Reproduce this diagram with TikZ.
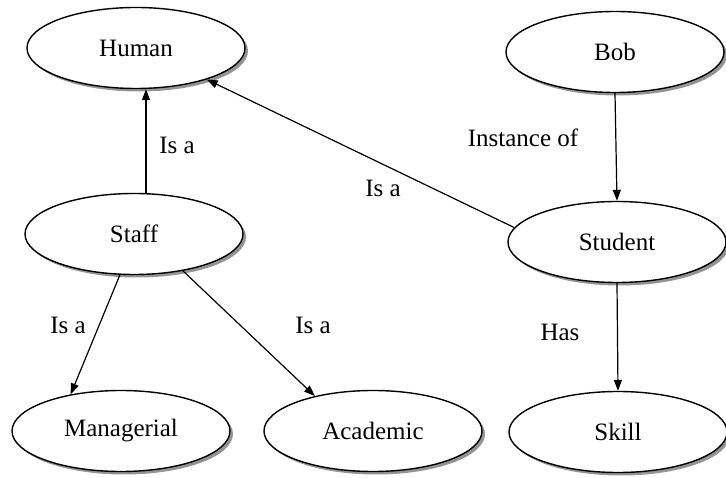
\documentclass[tikz,border=0pt]{standalone}
\usepackage{fontspec}
\setmainfont{Liberation Serif}
\usetikzlibrary{shapes.geometric,arrows.meta,shadows}
\begin{document}
\begin{tikzpicture}[x=1pt,y=-1pt,
  concept/.style={ellipse, draw=black, line width=1.4pt, fill=white,
    minimum width=218pt, minimum height=81pt, inner sep=0pt,
    font=\fontsize{25}{29}\selectfont,
    drop shadow={shadow xshift=3pt, shadow yshift=-3pt, fill=black!60, opacity=0.7}},
  rel/.style={draw=black, line width=1.2pt, -{Triangle[length=11pt,width=8pt]}},
  lbl/.style={inner sep=0pt, font=\fontsize{25}{29}\selectfont}]
\useasboundingbox (0,0) rectangle (726,478);
\node[concept] (human) at (136,48) {Human};
\node[concept] (bob) at (615,52) {Bob};
\node[concept] (staff) at (134,234) {Staff};
\node[concept] (student) at (617,242) {Student};
\node[concept] (managerial) at (121,431) {Managerial};
\node[concept] (academic) at (373,431) {Academic};
\node[concept] (skill) at (618,432) {Skill};

\draw[rel] ([xshift=12pt]staff.north) -- ([xshift=10pt]human.south);
\draw[rel] (student.172) -- (human.-24);
\draw[rel] (bob.south) -- (student.north);
\draw[rel] (student.south) -- (skill.north);
\draw[rel] (staff.251) -- (managerial.144);
\draw[rel] (staff.-37) -- (academic.149);

\node[lbl] (l1) at (177,145) {Is a};
\node[lbl] (l2) at (523,138) {Instance of};
\node[lbl] (l3) at (383,188) {Is a};
\node[lbl] (l4) at (68,325) {Is a};
\node[lbl] (l5) at (313,325) {Is a};
\node[lbl] (l6) at (560,332) {Has};
\end{tikzpicture}
\end{document}
